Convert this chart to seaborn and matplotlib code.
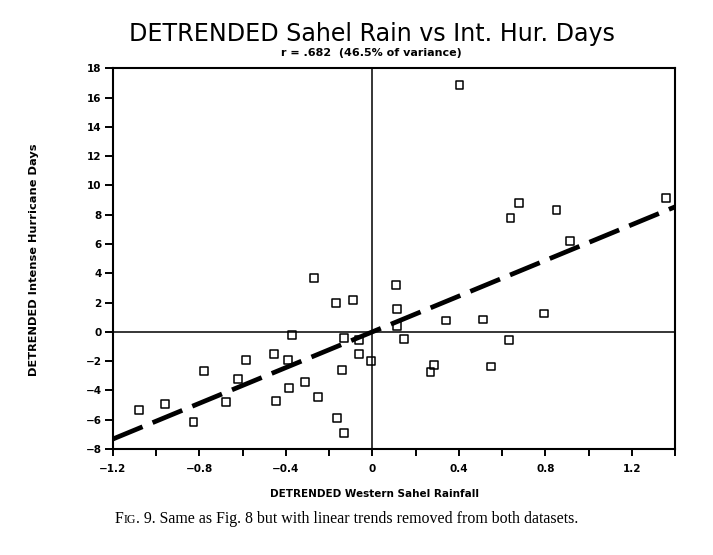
import matplotlib
matplotlib.use("Agg")
import matplotlib.pyplot as plt
import matplotlib.ticker as mticker
import seaborn as sns
import pandas as pd
import numpy as np

# ---- data ----
sahel_rain = [-1.079, -0.957, -0.827, -0.778, -0.676, -0.586, -0.620, -0.446,
              -0.454, -0.386, -0.389, -0.373, -0.310, -0.268, -0.253, -0.168,
              -0.163, -0.130, -0.139, -0.130, -0.091, -0.062, -0.062, -0.006,
              0.108, 0.113, 0.114, 0.148, 0.340, 0.287, 0.269, 0.513,
              0.548, 0.633, 0.793, 0.403, 0.678, 0.639, 0.852, 0.914, 1.360]
hur_days = [-5.31, -4.95, -6.16, -2.65, -4.81, -1.95, -3.22, -4.70,
            -1.54, -3.81, -1.90, -0.19, -3.43, 3.67, -4.47, 1.99,
            -5.90, -6.91, -2.58, -0.42, 2.20, -0.58, -1.54, -1.97,
            3.20, 1.54, 0.40, -0.47, 0.78, -2.29, -2.76, 0.85,
            -2.36, -0.56, 1.26, 16.87, 8.79, 7.77, 8.34, 6.20, 9.16]
trend_slope = 6.1
trend_intercept = 0.0

title = "DETRENDED Sahel Rain vs Int. Hur. Days"
subtitle = "r = .682  (46.5% of variance)"
xlabel = "DETRENDED Western Sahel Rainfall"
ylabel = "DETRENDED Intense Hurricane Days"
x_major = [-1.2, -0.8, -0.4, 0.0, 0.4, 0.8, 1.2]
x_labels = ["\u22121.2", "\u22120.8", "\u22120.4", "0", "0.4", "0.8", "1.2"]
y_major = list(range(-8, 19, 2))

df = pd.DataFrame({"rain": sahel_rain, "days": hur_days})

sns.set_theme(style="white")
plt.rcParams["font.family"] = ["DejaVu Sans"]
plt.rcParams["text.color"] = "black"
plt.rcParams["axes.labelcolor"] = "black"
plt.rcParams["xtick.color"] = "black"
plt.rcParams["ytick.color"] = "black"

fig = plt.figure(figsize=(7.13, 5.55), dpi=100)
ax = fig.add_axes([0.1583, 0.1910, 0.7884, 0.6858])

ax.axhline(0, color="black", lw=1.1, zorder=1)
ax.axvline(0, color="black", lw=1.1, zorder=1)

ax.axline((0, trend_intercept), slope=trend_slope, color="black", lw=3.4,
          dashes=(6.8, 2.3), zorder=2)

sns.scatterplot(data=df, x="rain", y="days", marker="s", s=32,
                facecolor="none", edgecolor="black", linewidth=1.1,
                ax=ax, zorder=3)

ax.set_xlim(-1.2, 1.4)
ax.set_ylim(-8, 18)
ax.set_xticks(x_major)
ax.set_xticklabels(x_labels)
ax.xaxis.set_minor_locator(mticker.MultipleLocator(0.2))
ax.set_yticks(y_major)
ax.set_yticklabels(["\u2212%d" % -v if v < 0 else "%d" % v for v in y_major])

for s in ax.spines.values():
    s.set_color("black")
    s.set_linewidth(1.5)

ax.tick_params(axis="both", which="both", direction="out", colors="black",
               width=1.4, bottom=True, left=True, labelsize=7.5)
ax.tick_params(axis="x", which="major", length=5, pad=6)
ax.tick_params(axis="x", which="minor", length=5)
ax.tick_params(axis="y", which="major", length=6, pad=2)
for lab in ax.get_xticklabels() + ax.get_yticklabels():
    lab.set_fontweight("bold")

ax.set_xlabel(xlabel, fontsize=7.5, fontweight="bold", color="black")
ax.xaxis.set_label_coords(0.466, -0.105)
ax.set_ylabel(ylabel, fontsize=8.2, fontweight="bold", color="black")
ax.yaxis.set_label_coords(-0.131, 0.498)

fig.text(0.521, 0.938, title, ha="center", va="center", fontsize=17.1,
         fontweight="normal", color="black")
fig.text(0.521, 0.904, subtitle, ha="center", va="center", fontsize=8,
         fontweight="bold", color="black")

# caption with small-caps "FIG"
fig.canvas.draw()
renderer = fig.canvas.get_renderer()
cap_y = 1 - 523 / 555
x0 = 115 / 713
parts = [("F", 11.4), ("IG", 8.6), (". 9. Same as Fig. 8 but with linear trends removed from both datasets.", 11.4)]
for txt, fs in parts:
    t = fig.text(x0, cap_y, txt, ha="left", va="baseline", fontsize=fs,
                 color="black", family=["Liberation Serif", "DejaVu Serif"])
    bb = t.get_window_extent(renderer=renderer)
    x0 = bb.x1 / fig.bbox.width

fig.savefig("out.png", dpi=100)
